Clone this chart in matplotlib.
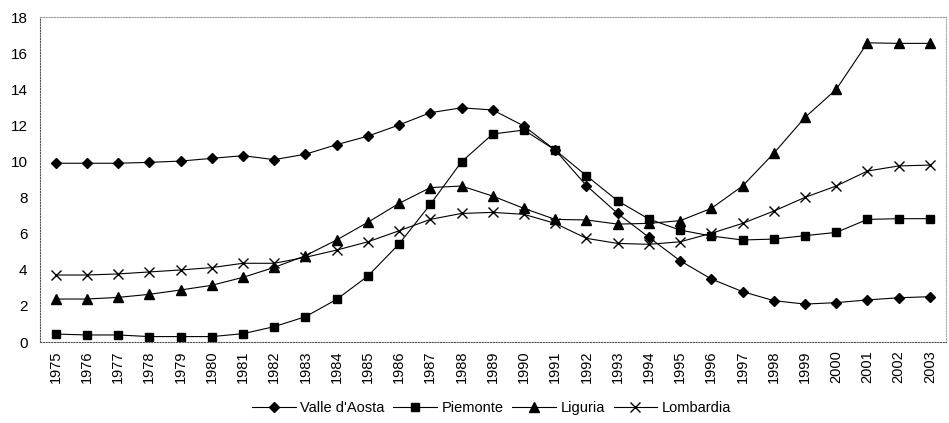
import matplotlib
matplotlib.use("Agg")
import matplotlib.pyplot as plt
from matplotlib.lines import Line2D

years = [str(y) for y in range(1975, 2004)]
valle_daosta = [9.9, 9.9, 9.9, 9.95, 10.02, 10.17, 10.32, 10.1, 10.4, 10.93, 11.4, 12.02, 12.7, 12.97, 12.85,
                11.96, 10.63, 8.66, 7.12, 5.8, 4.5, 3.49, 2.79, 2.29, 2.1, 2.18, 2.33, 2.45, 2.51]
piemonte = [0.44, 0.39, 0.39, 0.3, 0.3, 0.3, 0.46, 0.85, 1.4, 2.36, 3.65, 5.43, 7.62, 9.98, 11.52,
            11.74, 10.63, 9.21, 7.82, 6.81, 6.2, 5.87, 5.65, 5.7, 5.89, 6.07, 6.79, 6.83, 6.83]
liguria = [2.38, 2.38, 2.47, 2.64, 2.88, 3.14, 3.58, 4.13, 4.78, 5.65, 6.63, 7.68, 8.55, 8.64, 8.08,
           7.4, 6.79, 6.76, 6.53, 6.57, 6.72, 7.4, 8.64, 10.45, 12.44, 13.99, 16.57, 16.54, 16.54]
lombardia = [3.71, 3.71, 3.77, 3.88, 3.99, 4.12, 4.36, 4.36, 4.69, 5.09, 5.55, 6.16, 6.79, 7.12, 7.18,
             7.07, 6.57, 5.74, 5.46, 5.41, 5.55, 6.02, 6.57, 7.25, 8.01, 8.64, 9.47, 9.75, 9.8]
series_names = ["Valle d'Aosta", "Piemonte", "Liguria", "Lombardia"]
y_ticks = [0, 2, 4, 6, 8, 10, 12, 14, 16, 18]

plt.rcParams['font.family'] = ['Liberation Sans', 'DejaVu Sans']

fig = plt.figure(figsize=(9.49, 4.23), dpi=100)
ax = fig.add_axes([40 / 949, 1 - 342 / 423, (945.5 - 40) / 949, (342 - 17) / 423])

x = list(range(len(years)))
styles = [
    dict(marker='D', markersize=5.5),
    dict(marker='s', markersize=5.5),
    dict(marker='^', markersize=6.5),
    dict(marker='x', markersize=7, markeredgewidth=1.0),
]
data = [valle_daosta, piemonte, liguria, lombardia]
handles = []
for name, vals, st in zip(series_names, data, styles):
    ln, = ax.plot(x, vals, color='black', linewidth=0.8, label=name, **st)
    handles.append(ln)

ax.set_xlim(-0.5, len(years) - 0.5)
ax.set_ylim(0, 18)
ax.set_yticks(y_ticks)
ax.set_yticklabels([str(v) for v in y_ticks], fontsize=11)
ax.set_xticks(x)
ax.set_xticklabels(years, rotation=90, fontsize=10.5)
ax.tick_params(axis='x', length=0, pad=6)
ax.tick_params(axis='y', length=0, pad=9)

for side in ['top', 'right', 'left', 'bottom']:
    ax.spines[side].set_linestyle((0, (1, 1.5)))
    ax.spines[side].set_linewidth(0.8)
ax.spines['top'].set_color('#999999')
ax.spines['right'].set_color('#aaaaaa')
ax.spines['left'].set_color('#555555')
ax.spines['bottom'].set_color('#555555')

fig.legend(handles=handles, labels=series_names, loc='center', bbox_to_anchor=(0.518, 1 - 408 / 423),
           ncol=4, frameon=False, fontsize=10.5, handlelength=3.0, columnspacing=0.6, handletextpad=0.3)

fig.savefig('out.png', dpi=100)
